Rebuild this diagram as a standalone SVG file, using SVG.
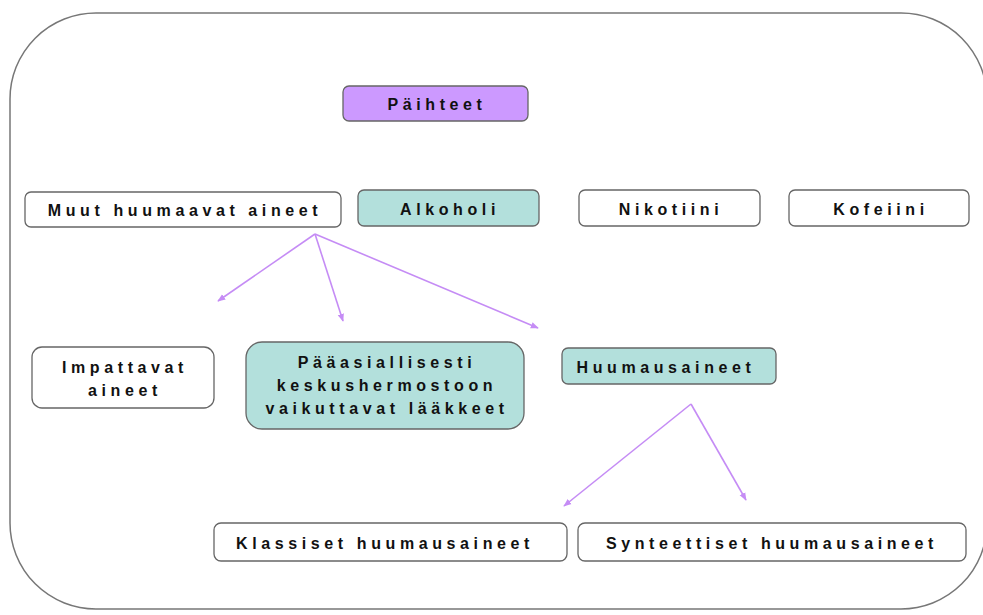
<svg xmlns="http://www.w3.org/2000/svg" width="983" height="615" viewBox="0 0 983 615">
<defs>
<style>
.box{stroke:#666;stroke-width:1.3}
.w{fill:#fff}
.t{fill:#b3e0dc}
.p{fill:#cc99ff}
text{font-family:"Liberation Sans",Arial,sans-serif;font-weight:bold;font-size:16px;letter-spacing:4.6px;fill:#111;text-anchor:middle}
.c{stroke:#c58cf5;stroke-width:1.6;fill:none;marker-end:url(#ah)}
</style>
<marker id="ah" viewBox="0 0 10 10" refX="9" refY="5" markerWidth="5" markerHeight="5" orient="auto" markerUnits="strokeWidth">
<path d="M0,1 L10,5 L0,9 z" fill="#c58cf5"/>
</marker>
</defs>
<rect x="0" y="0" width="983" height="615" fill="#fff"/>
<rect x="10" y="13" width="977" height="596" rx="86" ry="86" fill="none" stroke="#777" stroke-width="1.5"/>
<g id="connectors">
<line class="c" x1="315" y1="234" x2="218" y2="301"/>
<line class="c" x1="315" y1="234" x2="343" y2="321"/>
<line class="c" x1="315" y1="234" x2="538" y2="328"/>
<line class="c" x1="691" y1="404" x2="564" y2="506"/>
<line class="c" x1="691" y1="404" x2="746" y2="500"/>
</g>
<g id="paihteet"><rect class="box p" x="343" y="86" width="185" height="35" rx="6"/><text x="437" y="110">Päihteet</text></g>
<g id="muut"><rect class="box w" x="25" y="192" width="316" height="35" rx="6"/><text x="185" y="216">Muut huumaavat aineet</text></g>
<g id="alkoholi"><rect class="box t" x="358" y="190" width="181" height="36" rx="6"/><text x="450" y="215">Alkoholi</text></g>
<g id="nikotiini"><rect class="box w" x="579" y="190" width="181" height="36" rx="6"/><text x="671" y="215">Nikotiini</text></g>
<g id="kofeiini"><rect class="box w" x="789" y="190" width="180" height="36" rx="6"/><text x="881" y="215">Kofeiini</text></g>
<g id="impattavat"><rect class="box w" x="32" y="347" width="182" height="61" rx="10"/><text x="125" y="373">Impattavat</text><text x="125" y="396">aineet</text></g>
<g id="paaasiallisesti"><rect class="box t" x="246" y="342" width="278" height="87" rx="16"/><text x="387" y="368">Pääasiallisesti</text><text x="387" y="391">keskushermostoon</text><text x="387" y="414">vaikuttavat lääkkeet</text></g>
<g id="huumausaineet"><rect class="box t" x="562" y="348" width="214" height="36" rx="6"/><text x="666" y="373">Huumausaineet</text></g>
<g id="klassiset"><rect class="box w" x="214" y="523" width="353" height="38" rx="7"/><text x="385" y="549">Klassiset huumausaineet</text></g>
<g id="synteettiset"><rect class="box w" x="578" y="523" width="388" height="38" rx="7"/><text x="772" y="549">Synteettiset huumausaineet</text></g>
</svg>
